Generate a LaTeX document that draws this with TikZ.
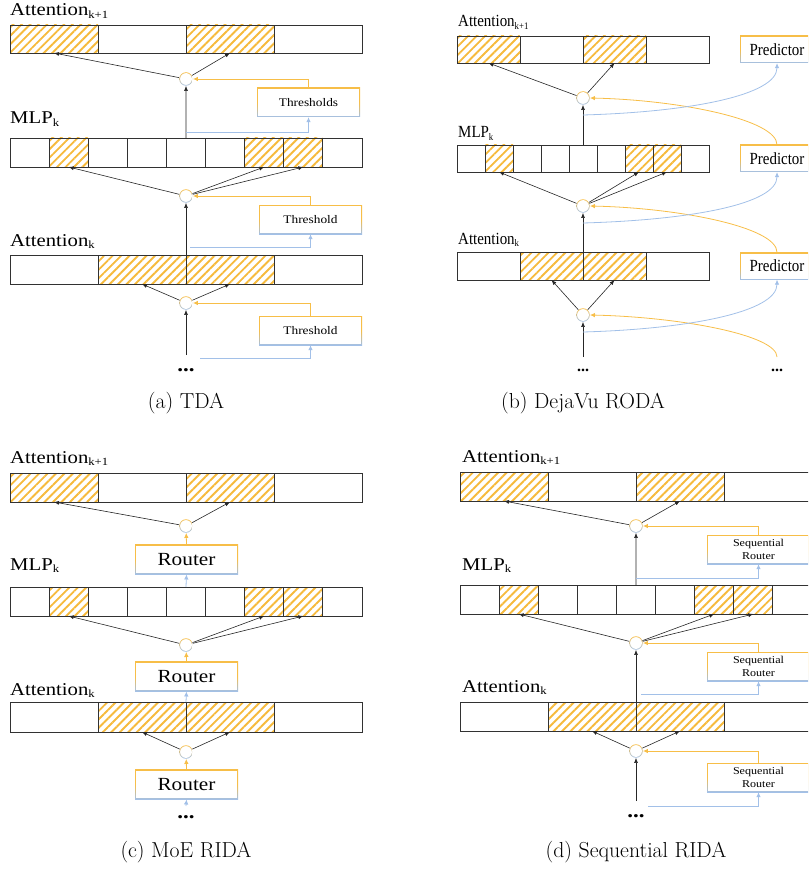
\documentclass[tikz,border=0pt]{standalone}
\usepackage{fontspec}
\usepackage{graphicx}
\usepackage{tikz}
\usetikzlibrary{arrows.meta,patterns.meta}

\newfontfamily\tnr{Liberation Serif}
\definecolor{gorange}{RGB}{247,190,72}
\definecolor{hatchor}{RGB}{246,186,60}
\definecolor{gblue}{RGB}{162,192,232}
\definecolor{edge}{RGB}{50,50,50}

\newcommand{\wide}[1]{\scalebox{1.15}[1]{#1}}
\newcommand{\narrow}[1]{\scalebox{0.88}[1]{#1}}
\newcommand{\lsub}[2][11]{\raisebox{-2.5pt}{\fontsize{#1}{#1}\selectfont #2}}
% one bar of cells: prefix, x, y, cells, cell width, height, hatched cells
\newcommand{\cellrow}[7]{%
  \foreach \i in {#7}
    \fill[hatch] ({#2+(\i-1)*#5},#3) rectangle ++(#5,#6);
  \foreach \i in {1,...,#4}
    \node[cell, minimum width=#5pt, minimum height=#6pt, anchor=north west]
      (#1\i) at ({#2+(\i-1)*#5},#3) {};
}

\begin{document}
\begin{tikzpicture}[
            x=1pt, y=-1pt,
            cell/.style={rectangle, draw=edge, line width=0.9pt, inner sep=0pt, outer sep=0pt},
            hatch/.style={pattern={Lines[angle=45,distance=6pt,line width=1.9pt]}, pattern color=hatchor},
            gate/.style={circle, inner sep=0pt, minimum size=13.5pt, top color=gorange, bottom color=gblue,
                path picture={\fill[white] (path picture bounding box.center) circle (5.9pt);}},
            gbox/.style={rectangle, inner sep=0pt, top color=gorange, bottom color=gblue, middle color=gorange,
                path picture={\fill[white] ([xshift=1pt,yshift=-1pt]path picture bounding box.north west)
                    rectangle ([xshift=-1pt,yshift=1pt]path picture bounding box.south east);}},
            thr/.style={gbox, minimum width=103pt, minimum height=29pt, font=\tnr\fontsize{11.6}{13}\selectfont},
            pred/.style={gbox, minimum width=74pt, minimum height=27pt, font=\tnr\fontsize{17}{19}\selectfont},
            rout/.style={gbox, minimum width=103pt, minimum height=29.5pt, font=\tnr\fontsize{18.5}{20}\selectfont},
            seqr/.style={gbox, minimum width=103pt, minimum height=29pt, align=center, font=\tnr\fontsize{10.5}{13.3}\selectfont},
            lbl/.style={anchor=base west, inner sep=0pt, font=\tnr\fontsize{18}{20}\selectfont},
            lblb/.style={anchor=base west, inner sep=0pt, font=\tnr\fontsize{17}{19}\selectfont},
            ellip/.style={anchor=base, inner sep=0pt, font=\tnr\bfseries\fontsize{20}{20}\selectfont},
            capt/.style={inner sep=0pt, font=\fontsize{21.7}{26}\selectfont},
            blk/.style={draw=black!85, line width=0.6pt, -{Latex[length=5pt,width=4pt]}},
            oarr/.style={draw=gorange, line width=0.8pt, -{Latex[length=5pt,width=4.5pt]}},
            barr/.style={draw=gblue, line width=0.8pt, -{Latex[length=5pt,width=4.5pt]}}
        ]
        \useasboundingbox (0,0) rectangle (808,869);
        \clip (0,0) rectangle (808,869);

        % (a) TDA
        \node[lbl] (la1) at (10,16) {\wide{Attention\lsub{k+1}}};
        \cellrow{ta}{10}{25}{4}{88}{28}{1,3}
        \node[gate] (ga1) at (186,79) {};
        \node[thr] (tha1) at (308.5,102.5) {\wide{Thresholds}};
        \node[lbl] (la2) at (10,124) {\wide{MLP\lsub{k}}};
        \cellrow{ma}{10}{138}{9}{39.11}{29}{2,7,8}
        \node[gate] (ga2) at (186,196) {};
        \node[thr] (tha2) at (310.5,219.5) {\wide{Threshold}};
        \node[lbl] (la3) at (10,246) {\wide{Attention\lsub{k}}};
        \cellrow{aa}{10}{255}{4}{88}{29}{2,3}
        \node[gate] (ga3) at (186,303) {};
        \node[thr] (tha3) at (310.5,330.5) {\wide{Threshold}};
        \node[ellip] (da) at (186,371) {\wide{...}};
        \node[capt] (capa) at (186,403) {(a) TDA};
        \coordinate (ba1) at (186,132);
        \coordinate (ba2) at (190,247);
        \coordinate (ba3) at (200,358);
        \draw[blk] (ga1) -- (ta1.south);
        \draw[blk] (ga1) -- (ta3.south);
        \draw[blk] (ma5.north) -- (ga1);
        \draw[blk] (ga2) -- (ma2.south);
        \draw[blk] (ga2) -- (ma7.south);
        \draw[blk] (ga2) -- (ma8.south);
        \draw[blk] (aa2.north east) -- (ga2);
        \draw[blk] (ga3) -- (aa2.south);
        \draw[blk] (ga3) -- (aa3.south);
        \draw[blk] ([yshift=16pt]da.base) -- (ga3);
        \draw[oarr] (tha1.north) |- (ga1.east);
        \draw[oarr] (tha2.north) |- (ga2.east);
        \draw[oarr] (tha3.north) |- (ga3.east);
        \draw[barr] (ba1) -| (tha1.south);
        \draw[barr] (ba2) -| (tha2.south);
        \draw[barr] (ba3) -| (tha3.south);

        % (b) DejaVu RODA
        \node[lblb] (lb1) at (458,27) {\narrow{Attention\lsub[10]{k+1}}};
        \cellrow{tb}{457}{36}{4}{63}{27}{1,3}
        \node[gate] (gb1) at (583,98) {};
        \node[pred] (pb1) at (777,49.5) {\narrow{Predictor}};
        \node[lblb] (lb2) at (458,138) {\narrow{MLP\lsub[10]{k}}};
        \cellrow{mb}{457}{145}{9}{28}{27}{2,7,8}
        \node[pred] (pb2) at (777,158.5) {\narrow{Predictor}};
        \node[gate] (gb2) at (583,206) {};
        \node[lblb] (lb3) at (458,244) {\narrow{Attention\lsub[10]{k}}};
        \cellrow{ab}{457}{252}{4}{63}{28}{2,3}
        \node[pred] (pb3) at (777,266) {\narrow{Predictor}};
        \node[gate] (gb3) at (583,315) {};
        \node[ellip, font=\tnr\bfseries\fontsize{16}{16}\selectfont] (db1) at (583,371) {...};
        \node[ellip, font=\tnr\bfseries\fontsize{16}{16}\selectfont] (db2) at (777,371) {...};
        \node[capt] (capb) at (583,403) {(b) DejaVu RODA};
        \coordinate (bb1) at (583,115);
        \coordinate (bb2) at (583,223);
        \coordinate (bb3) at (583,332);
        \draw[blk] (gb1) -- (tb1.south);
        \draw[blk] (gb1) -- (tb3.south);
        \draw[blk] (mb5.north) -- (gb1);
        \draw[blk] (gb2) -- (mb2.south);
        \draw[blk] (gb2) -- (mb7.south);
        \draw[blk] (gb2) -- (mb8.south);
        \draw[blk] (ab2.north east) -- (gb2);
        \draw[blk] (gb3) -- (ab2.south);
        \draw[blk] (gb3) -- (ab3.south);
        \draw[blk] ([yshift=14pt]db1.base) -- (gb3);
        \draw[oarr] (pb2.north) .. controls +(0,-25) and +(90,2) .. (gb1.east);
        \draw[oarr] (pb3.north) .. controls +(0,-25) and +(90,2) .. (gb2.east);
        \draw[oarr] ([yshift=14pt]db2.base) .. controls +(0,-22) and +(90,2) .. (gb3.east);
        \draw[barr] (bb1) .. controls +(107,-3) and +(0,32) .. (pb1.south);
        \draw[barr] (bb2) .. controls +(107,-3) and +(0,32) .. (pb2.south);
        \draw[barr] (bb3) .. controls +(107,-3) and +(0,32) .. (pb3.south);

        % (c) MoE RIDA
        \node[lbl] (lc1) at (10,463) {\wide{Attention\lsub{k+1}}};
        \cellrow{tc}{10}{473}{4}{88}{29}{1,3}
        \node[gate] (gc1) at (186,526) {};
        \node[rout] (rc1) at (186.5,559.5) {\wide{Router}};
        \node[lbl] (lc2) at (10,570) {\wide{MLP\lsub{k}}};
        \cellrow{mc}{10}{587}{9}{39.11}{29}{2,7,8}
        \node[gate] (gc2) at (186,645) {};
        \node[rout] (rc2) at (186.5,676.5) {\wide{Router}};
        \node[lbl] (lc3) at (10,695) {\wide{Attention\lsub{k}}};
        \cellrow{ac}{10}{702}{4}{88}{30}{2,3}
        \node[gate] (gc3) at (186,752) {};
        \node[rout] (rc3) at (186.5,784.5) {\wide{Router}};
        \node[ellip] (dc) at (186,818) {\wide{...}};
        \node[capt] (capc) at (186,852) {(c) MoE RIDA};
        \draw[blk] (gc1) -- (tc1.south);
        \draw[blk] (gc1) -- (tc3.south);
        \draw[blk] (gc2) -- (mc2.south);
        \draw[blk] (gc2) -- (mc7.south);
        \draw[blk] (gc2) -- (mc8.south);
        \draw[blk] (gc3) -- (ac2.south);
        \draw[blk] (gc3) -- (ac3.south);
        \draw[oarr] (rc1.north) -- (gc1);
        \draw[oarr] (rc2.north) -- (gc2);
        \draw[oarr] (rc3.north) -- (gc3);
        \draw[barr] (mc5.north) -- (rc1.south);
        \draw[barr] (ac2.north east) -- (rc2.south);
        \draw[barr] ([yshift=12pt]dc.base) -- (rc3.south);

        % (d) Sequential RIDA
        \node[lbl] (ld1) at (462,462) {\wide{Attention\lsub{k+1}}};
        \cellrow{td}{460}{472}{4}{88}{29}{1,3}
        \node[gate] (gd1) at (636,526) {};
        \node[seqr] (sr1) at (758.5,549.5) {\wide{Sequential}\\\wide{Router}};
        \node[lbl] (ld2) at (462,570) {\wide{MLP\lsub{k}}};
        \cellrow{md}{460}{585}{9}{39.11}{29}{2,7,8}
        \node[gate] (gd2) at (636,643) {};
        \node[seqr] (sr2) at (758.5,666.5) {\wide{Sequential}\\\wide{Router}};
        \node[lbl] (ld3) at (462,692) {\wide{Attention\lsub{k}}};
        \cellrow{ad}{460}{702}{4}{88}{29}{2,3}
        \node[gate] (gd3) at (636,751) {};
        \node[seqr] (sr3) at (758.5,777.5) {\wide{Sequential}\\\wide{Router}};
        \node[ellip] (dd) at (636,817) {\wide{...}};
        \node[capt] (capd) at (636,852) {(d) Sequential RIDA};
        \coordinate (bd1) at (636,578);
        \coordinate (bd2) at (641,694);
        \coordinate (bd3) at (648,806);
        \draw[blk] (gd1) -- (td1.south);
        \draw[blk] (gd1) -- (td3.south);
        \draw[blk] (md5.north) -- (gd1);
        \draw[blk] (gd2) -- (md2.south);
        \draw[blk] (gd2) -- (md7.south);
        \draw[blk] (gd2) -- (md8.south);
        \draw[blk] (ad2.north east) -- (gd2);
        \draw[blk] (gd3) -- (ad2.south);
        \draw[blk] (gd3) -- (ad3.south);
        \draw[blk] ([yshift=16pt]dd.base) -- (gd3);
        \draw[oarr] (sr1.north) |- (gd1.east);
        \draw[oarr] (sr2.north) |- (gd2.east);
        \draw[oarr] (sr3.north) |- (gd3.east);
        \draw[barr] (bd1) -| (sr1.south);
        \draw[barr] (bd2) -| (sr2.south);
        \draw[barr] (bd3) -| (sr3.south);
        \end{tikzpicture}
\end{document}
